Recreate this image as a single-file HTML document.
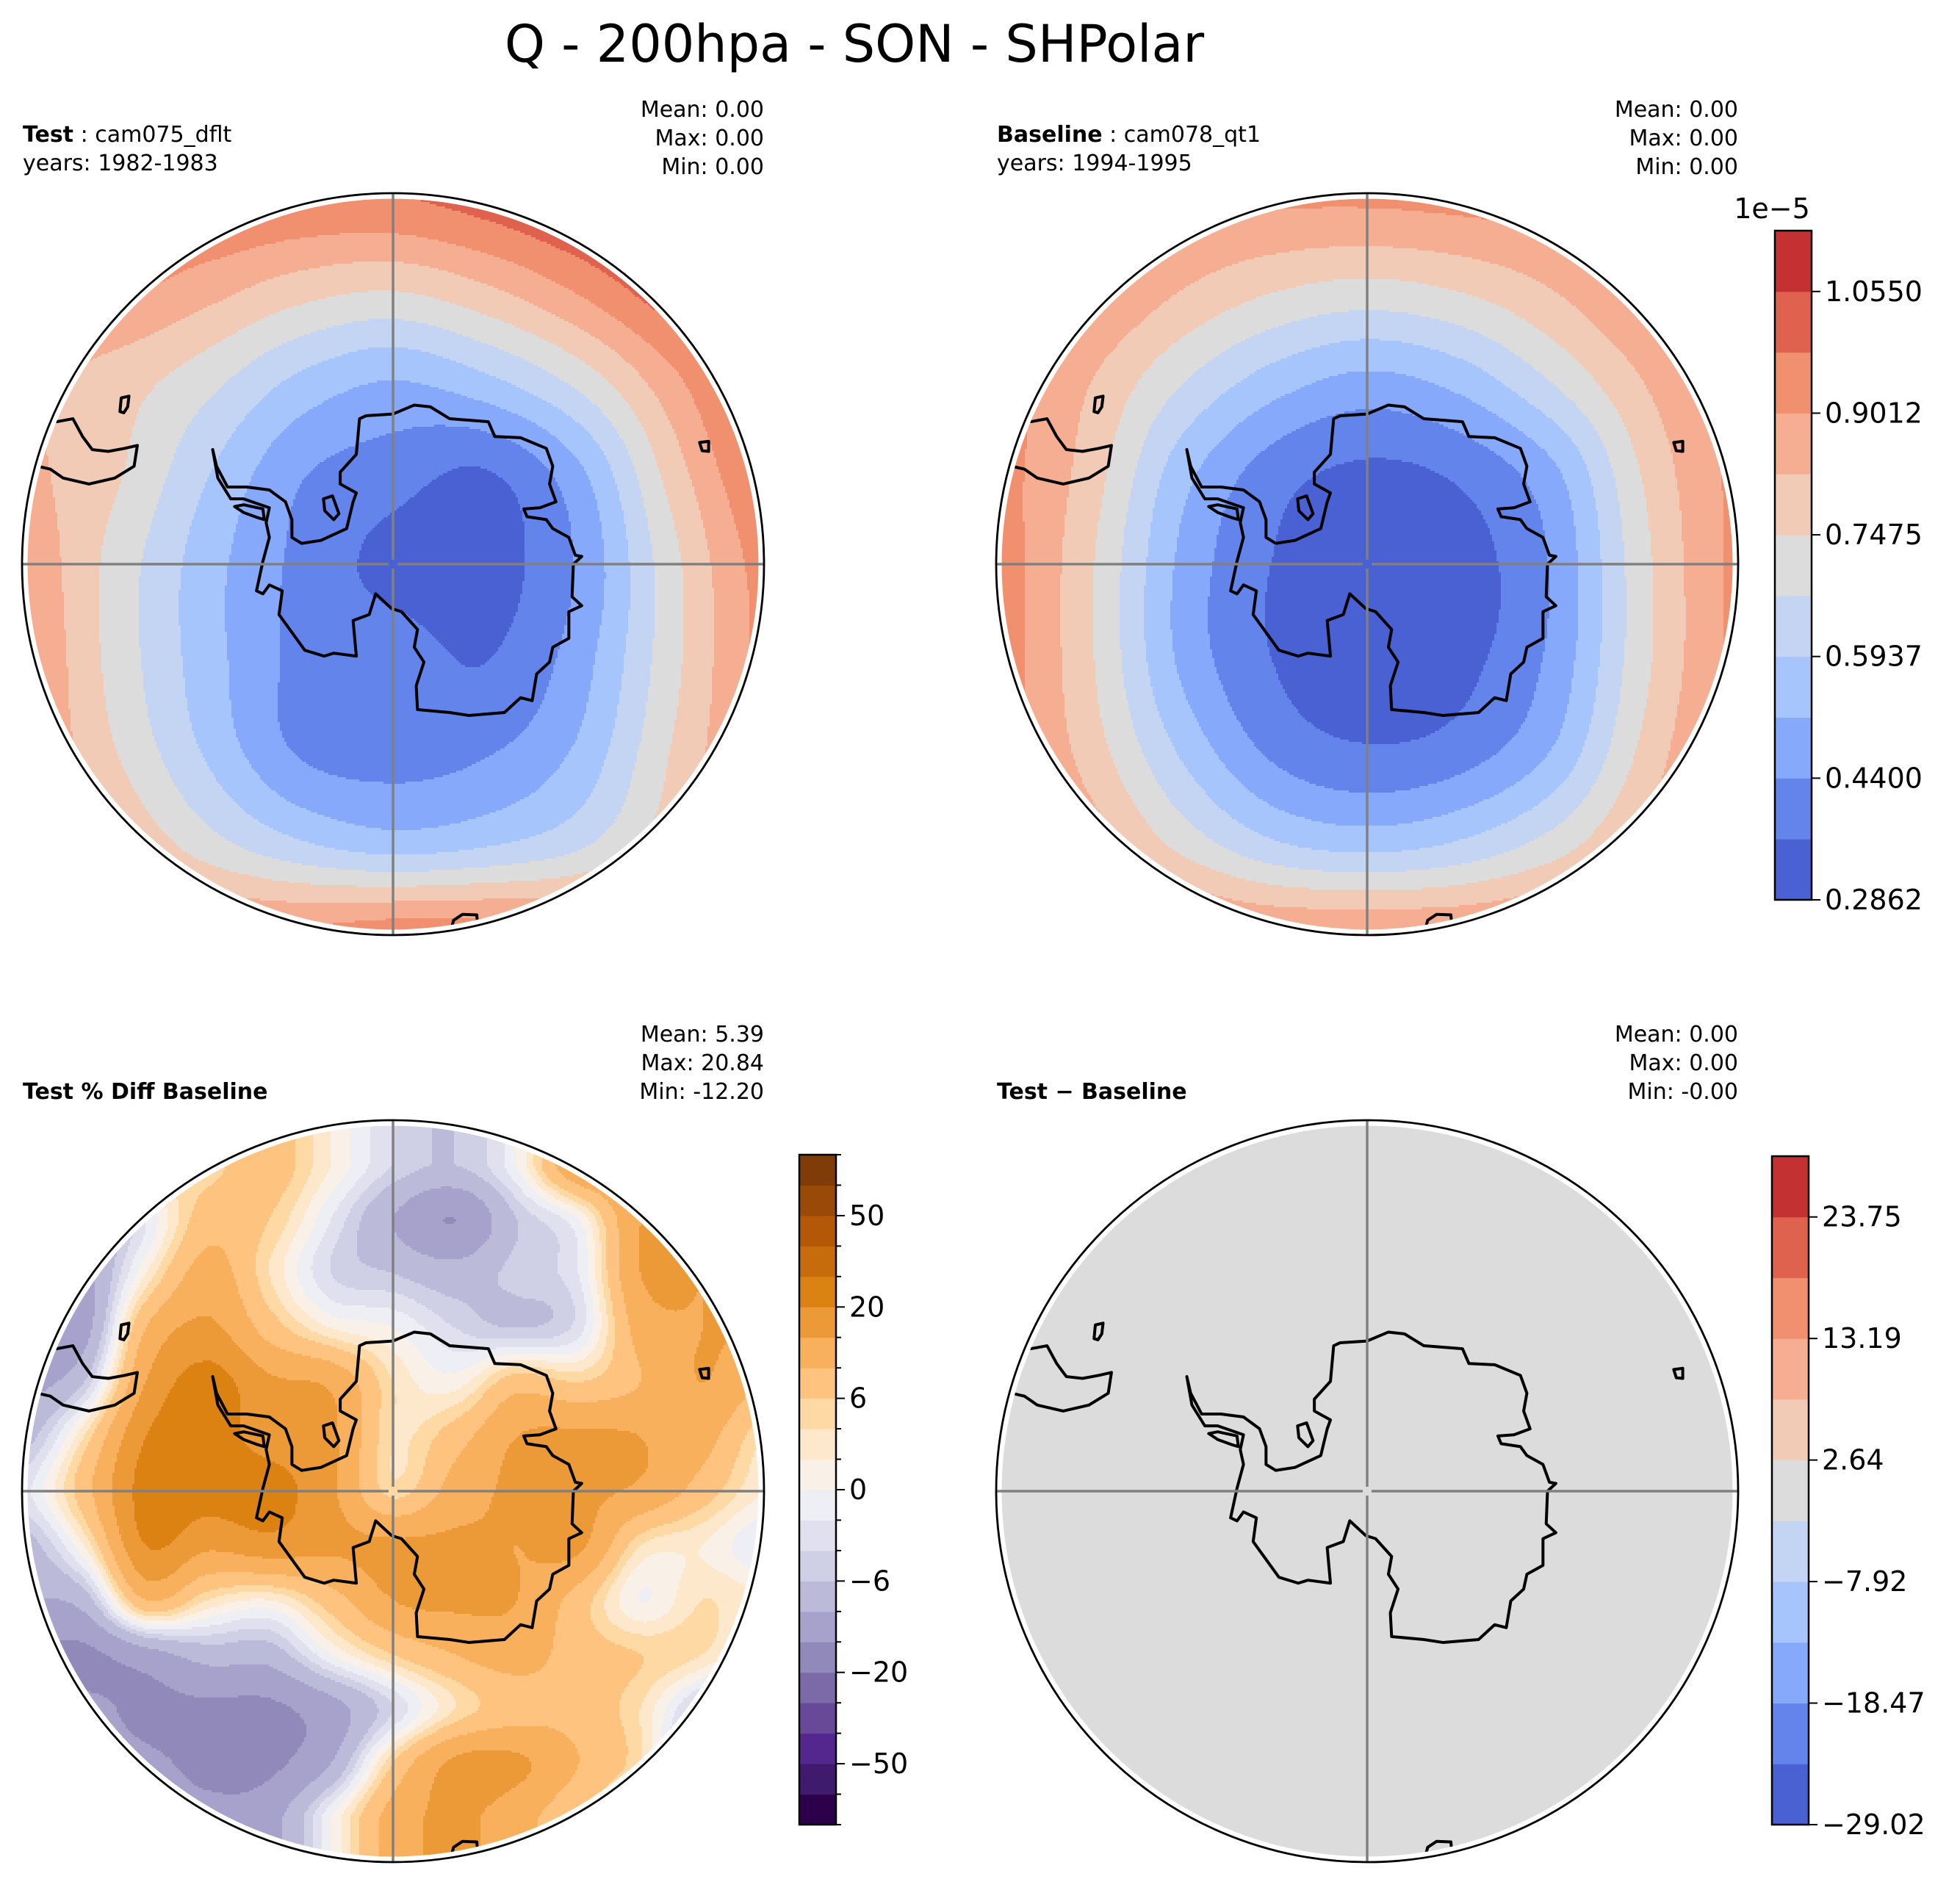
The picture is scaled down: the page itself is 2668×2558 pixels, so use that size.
<!DOCTYPE html>
<html><head><meta charset="utf-8">
<style>
html,body{margin:0;padding:0;background:#fff;}
svg{display:block;font-family:"DejaVu Sans","Liberation Sans",sans-serif;}
</style></head>
<body>
<svg id="fig" width="2668" height="2558" viewBox="0 0 2668 2558" xmlns="http://www.w3.org/2000/svg">
<rect width="2668" height="2558" fill="#fff"/>
<text x="1163" y="84" font-size="70" text-anchor="middle">Q - 200hpa - SON - SHPolar</text>

<text x="31" y="193" font-size="30"><tspan font-weight="bold">Test</tspan> : cam075_dflt</text>
<text x="31" y="232" font-size="30">years: 1982-1983</text>
<text x="1040" y="159" font-size="30" text-anchor="end">Mean:  0.00</text>
<text x="1040" y="198" font-size="30" text-anchor="end">Max:  0.00</text>
<text x="1040" y="237" font-size="30" text-anchor="end">Min:  0.00</text>

<text x="1357" y="193" font-size="30"><tspan font-weight="bold">Baseline</tspan> : cam078_qt1</text>
<text x="1357" y="232" font-size="30">years: 1994-1995</text>
<text x="2366" y="159" font-size="30" text-anchor="end">Mean:  0.00</text>
<text x="2366" y="198" font-size="30" text-anchor="end">Max:  0.00</text>
<text x="2366" y="237" font-size="30" text-anchor="end">Min:  0.00</text>

<text x="31" y="1496" font-size="30" font-weight="bold">Test % Diff Baseline</text>
<text x="1040" y="1418" font-size="30" text-anchor="end">Mean:  5.39</text>
<text x="1040" y="1457" font-size="30" text-anchor="end">Max: 20.84</text>
<text x="1040" y="1496" font-size="30" text-anchor="end">Min: -12.20</text>

<text x="1357" y="1496" font-size="30" font-weight="bold">Test − Baseline</text>
<text x="2366" y="1418" font-size="30" text-anchor="end">Mean:  0.00</text>
<text x="2366" y="1457" font-size="30" text-anchor="end">Max:  0.00</text>
<text x="2366" y="1496" font-size="30" text-anchor="end">Min: -0.00</text>
</svg>
<script>
// ---------- data ----------
const testGrid = [
[0.98,1.00,1.00,0.98,0.98,1.02,1.08,1.13,1.13],
[0.90,0.92,0.86,0.79,0.76,0.82,0.92,1.04,1.13],
[0.84,0.79,0.70,0.58,0.52,0.58,0.70,0.88,1.05],
[0.84,0.76,0.60,0.45,0.40,0.36,0.50,0.78,0.98],
[0.88,0.72,0.55,0.42,0.34,0.33,0.45,0.72,0.93],
[0.90,0.72,0.55,0.42,0.40,0.36,0.48,0.72,0.92],
[0.90,0.75,0.58,0.43,0.41,0.43,0.53,0.75,0.92],
[0.92,0.83,0.70,0.60,0.55,0.58,0.65,0.80,0.94],
[0.96,0.94,0.92,0.92,0.95,0.95,0.94,0.96,0.98]];
const baseGrid = [
[0.97,0.96,0.93,0.92,0.92,0.93,0.94,0.96,0.97],
[0.96,0.92,0.83,0.76,0.73,0.76,0.83,0.92,0.96],
[0.94,0.83,0.68,0.56,0.50,0.55,0.68,0.83,0.94],
[0.93,0.79,0.55,0.40,0.35,0.38,0.50,0.76,0.92],
[0.94,0.76,0.50,0.36,0.33,0.33,0.45,0.73,0.92],
[0.94,0.76,0.50,0.36,0.33,0.34,0.46,0.73,0.92],
[0.94,0.79,0.58,0.42,0.37,0.40,0.52,0.77,0.94],
[0.96,0.87,0.72,0.60,0.56,0.60,0.70,0.85,0.96],
[0.99,0.96,0.93,0.90,0.90,0.90,0.93,0.96,0.99]];
const pctGrid = [
[-8,-5,5,5,8,2,-4,-6,0,15,15,15,15],
[-15,-10,-2,8,6,-2,-10,-15,-6,0,15,15,15],
[-15,-12,2,12,4,-4,-6,-8,-5,-2,15,15,15],
[-15,-12,10,16,8,2,0,-4,-6,-3,12,15,15],
[-12,-6,15,22,16,14,4,1,8,6,10,15,10],
[-8,4,20,22,18,16,4,8,15,16,15,12,4],
[-3,8,22,22,22,16,5,12,16,16,14,8,2],
[-8,2,20,16,18,16,16,16,15,16,4,2,-2],
[-10,-8,10,4,2,8,15,16,15,8,0,4,2],
[-15,-16,-12,-8,-8,0,6,10,12,8,6,4,-2],
[-15,-14,-16,-16,-16,-12,-4,4,8,8,4,-6,-10],
[-12,-12,-14,-16,-16,-10,6,16,16,10,4,-10,-12],
[-10,-10,-12,-14,-12,0,12,16,12,6,0,-6,-6]];
const diffGrid = [[0,0,0],[0,0,0],[0,0,0]];

const qLevels = [0.2862,0.3631,0.4400,0.5169,0.5937,0.6706,0.7475,0.8244,0.9012,0.9781,1.0550,1.1319];
const qTickLabels = ["0.2862","0.4400","0.5937","0.7475","0.9012","1.0550"];
const pctLevels = [-100,-75,-50,-40,-30,-20,-15,-10,-6,-4,-2,0,2,4,6,10,15,20,30,40,50,75,100];
const pctTickLabels = ["\u221250","\u221220","\u22126","0","6","20","50"];
const dLevels = [-29.02,-23.74,-18.47,-13.19,-7.92,-2.64,2.64,7.92,13.19,18.47,23.75,29.02];
const dTickLabels = ["\u221229.02","\u221218.47","\u22127.92","2.64","13.19","23.75"];

const coolwarm = ['#4961d2','#6384eb','#86a9fc','#a7c5fd','#c4d5f3','#dcdcdc','#f2cbb7','#f5ae91','#f0906f','#de624e','#c43133'];
const puor = ['#2d004b','#3f1a6d','#54278f','#674998','#7c6aa8','#9189b9','#a7a2cb','#bcbad9','#cfcfe5','#e0e0ee','#eeeff4','#f9f0e7','#fde8cc','#fed9a4','#fdc37f','#f8b05c','#eb9a37','#dc8213','#c86b0c','#b35806','#994a07','#7f3b08'];

// coastline (digitized reference units, centre 632,905, radius 576 x 625)
const coast = [[590,655],[632,652],[665,637],[690,640],[720,660],[780,665],[790,690],[830,692],[870,710],[880,740],[875,770],[885,800],[860,810],[835,812],[840,825],[870,830],[880,845],[905,860],[915,890],[925,892],[912,905],[910,960],[925,975],[905,985],[905,1030],[880,1045],[875,1070],[855,1090],[848,1135],[830,1130],[805,1155],[750,1160],[720,1155],[670,1150],[668,1110],[680,1070],[665,1045],[670,1015],[645,985],[630,980],[615,965],[605,955],[595,990],[570,1000],[575,1060],[540,1055],[525,1060],[495,1050],[465,1005],[455,990],[460,950],[440,940],[430,955],[420,950],[430,900],[440,860],[435,835],[440,810],[400,795],[380,795],[360,760],[352,712],[358,740],[375,775],[405,775],[440,780],[465,800],[475,830],[475,860],[490,870],[520,865],[560,845],[570,800],[575,785],[550,770],[550,750],[575,720],[580,660],[590,655]];
const samerica = [[80,740],[100,745],[120,760],[160,770],[200,760],[230,740],[235,705],[215,710],[190,715],[165,712],[150,690],[135,660],[110,665],[105,660]];
const islands = [
 [[210,625],[222,622],[220,640],[214,650],[208,648],[210,625]],
 [[1108,700],[1122,698],[1122,715],[1112,714],[1108,700]],
 [[720,1530],[726,1505],[740,1495],[762,1496],[764,1520],[740,1525]],
 [[524,795],[538,790],[548,820],[540,830],[526,815],[524,795]],
 [[386,808],[400,805],[430,812],[432,830],[420,826],[400,818],[386,808]]];

// ---------- helpers ----------
const NS="http://www.w3.org/2000/svg";
const fig=document.getElementById('fig');
function mk(tag,attrs,parent){const e=document.createElementNS(NS,tag);for(const k in attrs)e.setAttribute(k,attrs[k]);(parent||fig).appendChild(e);return e;}
const R=505;
function cr(p0,p1,p2,p3,t){return 0.5*((2*p1)+(-p0+p2)*t+(2*p0-5*p1+4*p2-p3)*t*t+(-p0+3*p1-3*p2+p3)*t*t*t);}
function sample(grid,u,v){
 const n=grid[0].length-1,m=grid.length-1;
 const gx=Math.min(Math.max(u*n,0),n),gy=Math.min(Math.max(v*m,0),m);
 const ix=Math.min(Math.floor(gx),n-1),iy=Math.min(Math.floor(gy),m-1);
 const tx=gx-ix,ty=gy-iy;
 const g=(j,i)=>grid[Math.min(Math.max(j,0),m)][Math.min(Math.max(i,0),n)];
 const rows=[];
 for(let j=-1;j<=2;j++)rows.push(cr(g(iy+j,ix-1),g(iy+j,ix),g(iy+j,ix+1),g(iy+j,ix+2),tx));
 return cr(rows[0],rows[1],rows[2],rows[3],ty);
}
function band(levels,v){let b=0;for(let i=1;i<levels.length-1;i++){if(v>=levels[i])b=i;}return b;}

function drawMap(name,cx,cy,grid,levels,colors,yExt){
 const g=mk('g',{});
 
 
 const cid='clip-'+name;
 const cp=mk('clipPath',{id:cid},g);
 mk('circle',{cx:cx,cy:cy,r:R*0.985},cp);
 const field=mk('g',{'clip-path':'url(#'+cid+')'},g);
 
 
 const step=3;
 for(let y=cy-R;y<cy+R;y+=step){
  const ny=(y+step/2-cy)/R;
  const v=(ny-yExt[0])/(yExt[1]-yExt[0]);
  let runStart=cx-R,runBand=-1;
  for(let x=cx-R;x<=cx+R+step;x+=step){
   let b=-2;
   if(x<=cx+R){const nx=(x+step/2-cx)/R;b=band(levels,sample(grid,(nx+1)/2,v));}
   if(b!==runBand){
    if(runBand>=0){
     const r=mk('rect',{x:runStart,y:y,width:x-runStart+0.6,height:step+0.6,fill:colors[runBand]},field);
     
     
    }
    runStart=x;runBand=b;
   }
  }
 }
 const toP=(p)=>[cx+(p[0]-632)/576*R,cy+(p[1]-905)/625*R];
 const lines=mk('g',{'clip-path':'url(#'+cid+')',fill:'none',stroke:'#000','stroke-width':4,'stroke-linejoin':'round'},g);
 const cst=mk('path',{d:'M'+coast.map(p=>toP(p).join(',')).join('L')+'Z'},lines);
 
 
 const sa=mk('path',{d:'M'+samerica.map(p=>toP(p).join(',')).join('L')},lines);
 
 
 islands.forEach(isl=>{
  const ip=mk('path',{d:'M'+isl.map(p=>toP(p).join(',')).join('L')+'Z'},lines);
  
  
 });
 const h=mk('line',{x1:cx-R,y1:cy,x2:cx-6,y2:cy,stroke:'#808080','stroke-width':3.5},g);
 
 
 const h2=mk('line',{x1:cx+6,y1:cy,x2:cx+R,y2:cy,stroke:'#808080','stroke-width':3.5},g);
 
 
 const vl=mk('line',{x1:cx,y1:cy-R,x2:cx,y2:cy-6,stroke:'#808080','stroke-width':3.5},g);
 
 
 const vl2=mk('line',{x1:cx,y1:cy+6,x2:cx,y2:cy+R,stroke:'#808080','stroke-width':3.5},g);
 
 
 const bd=mk('circle',{cx:cx,cy:cy,r:R,fill:'none',stroke:'#000','stroke-width':2.8},g);
 
 
}

function drawColorbar(name,x,y0,y1,colors,labels,labelEvery,labelOffset,minor){
 const g=mk('g',{});
 
 
 const n=colors.length,h=(y1-y0)/n,w=50;
 for(let i=0;i<n;i++){
  const r=mk('rect',{x:x,y:y1-(i+1)*h,width:w,height:h+0.5,fill:colors[i]},g);
  
  
 }
 const fr=mk('rect',{x:x,y:y0,width:w,height:y1-y0,fill:'none',stroke:'#000','stroke-width':2.5},g);
 
 
 for(let i=0;i<=n;i++){
  const yy=y1-i*h;
  const isMajor=(i-labelOffset)%labelEvery===0&&i>=labelOffset;
  if(!isMajor&&!minor)continue;
  mk('line',{x1:x+w,y1:yy,x2:x+w+(isMajor?12:7),y2:yy,stroke:'#000','stroke-width':2},g);
  if(isMajor){
   const k=(i-labelOffset)/labelEvery;
   if(k<labels.length){
    const t=mk('text',{x:x+w+18,y:yy+13,'font-size':38},g);
    t.textContent=labels[k];
    
    
   }
  }
 }
}

drawMap('test-map',535,768,testGrid,qLevels,coolwarm,[-1,1]);
drawMap('baseline-map',1861,768,baseGrid,qLevels,coolwarm,[-1,1]);
drawMap('pctdiff-map',535,2030,pctGrid,pctLevels,puor,[-0.88,0.88]);
drawMap('diff-map',1861,2030,diffGrid,dLevels,coolwarm,[-1,1]);

drawColorbar('q-colorbar',2416,314,1225,coolwarm,qTickLabels,2,0,false);
const ex=mk('text',{x:2412,y:297,'font-size':38,'text-anchor':'middle'});
ex.textContent='1e\u22125';


drawColorbar('pctdiff-colorbar',1088,1572,2484,puor,pctTickLabels,3,2,true);
drawColorbar('diff-colorbar',2412,1574,2484,coolwarm,dTickLabels,2,0,false);
</script>
</body></html>
